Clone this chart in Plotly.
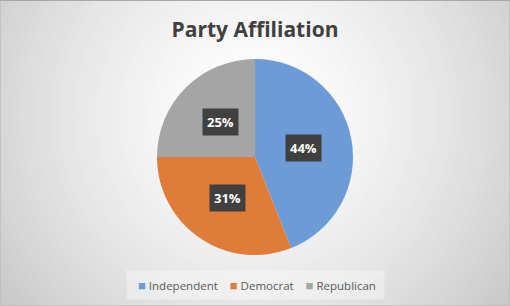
import math
import plotly.graph_objects as go

# ---- data ----
categories = ["Independent", "Democrat", "Republican"]
values = [44, 31, 25]
colors = ["#6C9BD6", "#E07C3A", "#A5A5A5"]
title_text = "Party Affiliation"

W, H = 510, 306
cx_px, cy_px, R_px = 255, 157, 98

fig = go.Figure()

dom_x = [(cx_px - R_px) / W, (cx_px + R_px) / W]
dom_y = [(H - (cy_px + R_px)) / H, (H - (cy_px - R_px)) / H]

fig.add_trace(go.Pie(
    labels=categories,
    values=values,
    marker=dict(colors=colors, line=dict(width=0)),
    sort=False,
    direction="clockwise",
    rotation=0,
    textinfo="none",
    hoverinfo="label+percent",
    domain=dict(x=dom_x, y=dom_y),
    showlegend=False,
))

# ---- radial gradient background (style only) ----
shapes = []
gcx, gcy = 255, 115
N = 45
maxd = 340.0
for i in range(N):
    d = maxd * (1 - i / N)
    c = 255 - 50 * (d / 300.0) ** 1.5
    c = int(max(0, min(255, round(c))))
    shapes.append(dict(
        type="circle", xref="paper", yref="paper", layer="below",
        x0=(gcx - d) / W, x1=(gcx + d) / W,
        y0=(H - gcy - d) / H, y1=(H - gcy + d) / H,
        fillcolor=f"rgb({c},{c},{c})", line=dict(width=0),
    ))
shapes.append(dict(type="rect", xref="paper", yref="paper", layer="below",
                   x0=0, x1=1, y0=0, y1=1, line=dict(color="#bdbdbd", width=1.5)))
shapes.append(dict(type="line", xref="paper", yref="paper", layer="above",
                   x0=0, x1=1, y0=1, y1=1, line=dict(color="#a8a8a8", width=2)))

# ---- data labels in dark boxes, placed from slice angles ----
annotations = []
total = sum(values)
cum = 0.0
for v in values:
    mid = (cum + v / 2) / total * 2 * math.pi
    cum += v
    r = 0.5 * R_px
    lx = cx_px + r * math.sin(mid)
    ly = cy_px - r * math.cos(mid)
    annotations.append(dict(
        x=lx / W, y=(H - ly) / H, xref="paper", yref="paper",
        text=f"<b>{round(v / total * 100)}%</b>",
        showarrow=False, font=dict(family="Open Sans", size=13, color="white"),
        bgcolor="#404040", borderpad=4,
    ))

# ---- legend box ----
sp = "&nbsp;"
items = []
for lab, col in zip(categories, colors):
    items.append(f'<span style="color:{col};font-size:13px">■</span>{sp}{lab}')
legend_text = sp * 2 + (sp * 4).join(items) + sp
annotations.append(dict(
    x=0.5, y=(H - 285) / H, xref="paper", yref="paper", xanchor="center",
    yanchor="middle", text=legend_text, showarrow=False,
    font=dict(family="Open Sans", size=11.5, color="#595959"),
    bgcolor="rgba(255,255,255,0.35)", borderpad=5,
))

fig.update_layout(
    width=W, height=H,
    margin=dict(l=0, r=0, t=0, b=0),
    paper_bgcolor="#d8d8d8",
    title=dict(text=f"<b>{title_text}</b>", x=0.5, xanchor="center",
               y=1 - 30 / H, yanchor="middle", yref="container",
               font=dict(family="Open Sans", size=21, color="#404040")),
    shapes=shapes,
    annotations=annotations,
)

fig.write_html("out.html")
